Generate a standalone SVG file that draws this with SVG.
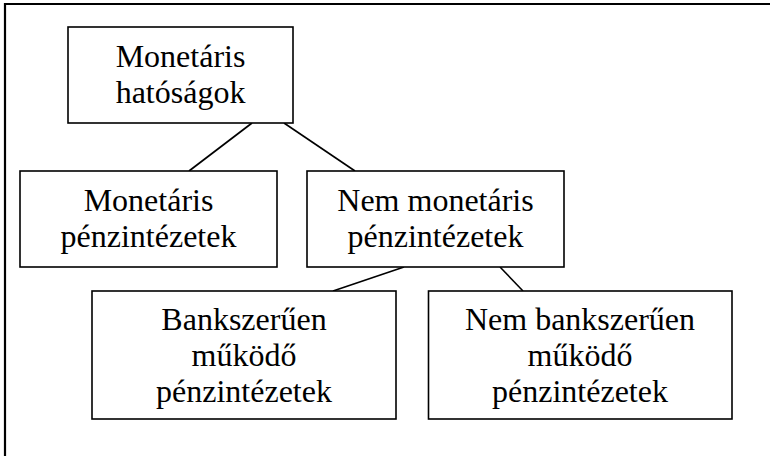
<svg xmlns="http://www.w3.org/2000/svg" width="770" height="456" viewBox="0 0 770 456">
<style>
.box{fill:#fff;stroke:#000;stroke-width:1.6}
.frame{fill:none;stroke:#000;stroke-width:2.2}
.con{stroke:#000;stroke-width:1.6;fill:none}
text{font-family:"Liberation Serif","Times New Roman",serif;font-size:32px;fill:#000;text-anchor:middle}
</style>
<rect width="770" height="456" fill="#fff"/>
<path class="frame" d="M5 456 V4 H770"/>
<g id="connectors">
<line class="con" x1="252" y1="123" x2="189" y2="171"/>
<line class="con" x1="284" y1="123" x2="355" y2="171"/>
<line class="con" x1="404" y1="267" x2="333" y2="291"/>
<line class="con" x1="500" y1="267" x2="523" y2="291"/>
</g>
<g id="monetaris-hatosagok">
<rect class="box" x="68" y="27" width="225" height="96"/>
<text x="180.5" y="67">Monetáris</text>
<text x="180.5" y="103">hatóságok</text>
</g>
<g id="monetaris-penzintezetek">
<rect class="box" x="20" y="171" width="257" height="96"/>
<text x="148.5" y="211">Monetáris</text>
<text x="148.5" y="247">pénzintézetek</text>
</g>
<g id="nem-monetaris-penzintezetek">
<rect class="box" x="307" y="171" width="257" height="96"/>
<text x="435.5" y="211">Nem monetáris</text>
<text x="435.5" y="247">pénzintézetek</text>
</g>
<g id="bankszeruen">
<rect class="box" x="92" y="291" width="304" height="128"/>
<text x="244" y="330">Bankszerűen</text>
<text x="244" y="366">működő</text>
<text x="244" y="402">pénzintézetek</text>
</g>
<g id="nem-bankszeruen">
<rect class="box" x="428.5" y="291" width="303.5" height="128"/>
<text x="580" y="330">Nem bankszerűen</text>
<text x="580" y="366">működő</text>
<text x="580" y="402">pénzintézetek</text>
</g>
</svg>
